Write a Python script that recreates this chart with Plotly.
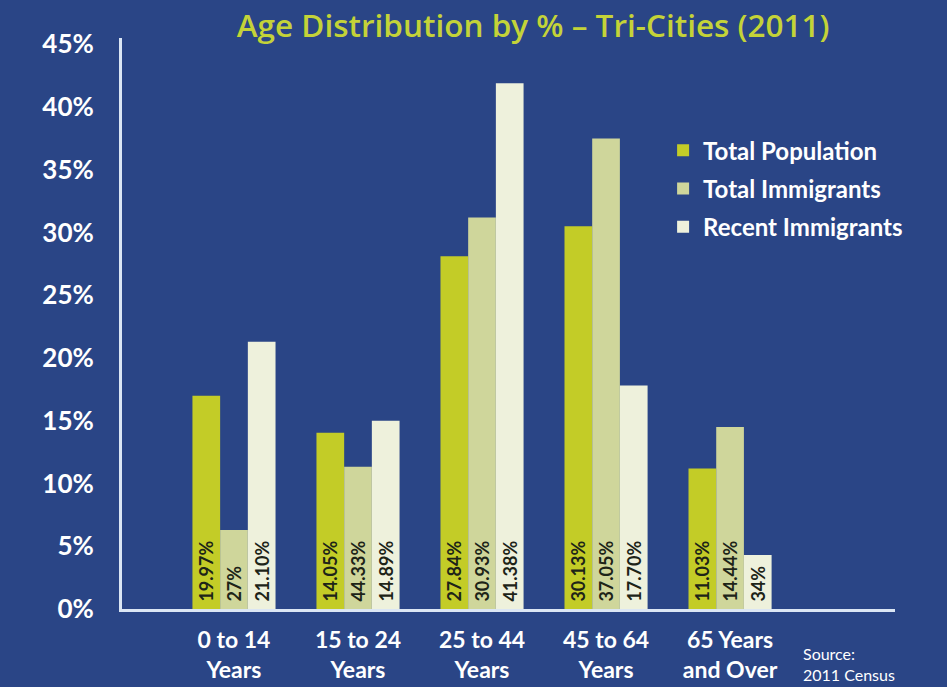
import plotly.graph_objects as go

categories = ["0 to 14<br>Years", "15 to 24<br>Years", "25 to 44<br>Years",
              "45 to 64<br>Years", "65 Years<br>and Over"]
total_population = [17.0, 14.05, 28.1, 30.5, 11.2]
total_immigrants = [6.3, 11.33, 31.2, 37.5, 14.5]
recent_immigrants = [21.3, 15.0, 41.9, 17.8, 4.3]
tp_labels = ["19.97%", "14.05%", "27.84%", "30.13%", "11.03%"]
ti_labels = ["27%", "44.33%", "30.93%", "37.05%", "14.44%"]
ri_labels = ["21.10%", "14.89%", "41.38%", "17.70%", "34%"]
y_ticks = [0, 5, 10, 15, 20, 25, 30, 35, 40, 45]

BG = "#2a4586"
FONT = "Lato"

fig = go.Figure()
series = [
    ("Total Population", total_population, tp_labels, "#c3cc27"),
    ("Total Immigrants", total_immigrants, ti_labels, "#cfd69b"),
    ("Recent Immigrants", recent_immigrants, ri_labels, "#eef1dc"),
]
for name, vals, labels, color in series:
    fig.add_trace(go.Bar(
        x=categories, y=vals, name=name, text=labels, legendgroup=name,
        texttemplate="\u00a0%{text}",
        marker=dict(color=color, line=dict(width=0)),
        textposition="inside", insidetextanchor="start", textangle=-90,
        constraintext="none",
        textfont=dict(family=FONT, size=18, color="#1d2418", weight="bold"),
        hoverinfo="skip",
    ))

fig.update_layout(
    width=947, height=687,
    paper_bgcolor=BG, plot_bgcolor=BG,
    margin=dict(l=122, r=52, t=38, b=78, autoexpand=False),
    barmode="group", bargap=0.33, bargroupgap=0,
    showlegend=True,
    legend=dict(x=0.70, y=0.842, xanchor="left", yanchor="top",
                bgcolor="rgba(0,0,0,0)",
                font=dict(family=FONT, size=24, color="white", weight="bold"),
                traceorder="grouped", tracegroupgap=4),
    title=dict(text="Age Distribution by % – Tri-Cities (2011)",
               x=0.563, xanchor="center", y=0.962, yanchor="middle",
               xref="container",
               font=dict(family="Open Sans", size=31.5, color="#c4d338", weight=600)),
    font=dict(family=FONT, color="white"),
)
fig.update_xaxes(
    range=[-0.903, 5.33], showgrid=False, zeroline=False, automargin=False,
    showline=True, linecolor="#dbe6f4", linewidth=3,
    ticks="", tickfont=dict(family=FONT, size=23, color="white", weight="bold"),
    ticklabelstandoff=8,
)
fig.update_yaxes(
    range=[0, 45.5], showgrid=False, zeroline=False, automargin=False,
    showline=True, linecolor="#dbe6f4", linewidth=3,
    tickvals=y_ticks, ticktext=[f"{v}%" for v in y_ticks],
    ticks="", tickfont=dict(family=FONT, size=26, color="white", weight="bold"),
    ticklabelstandoff=20,
)
fig.add_annotation(
    text="Source:<br>2011 Census", xref="paper", yref="paper",
    x=0.879, y=-0.058, xanchor="left", yanchor="top", align="left", showarrow=False,
    font=dict(family=FONT, size=16, color="white"),
)
fig.write_html("out.html")
